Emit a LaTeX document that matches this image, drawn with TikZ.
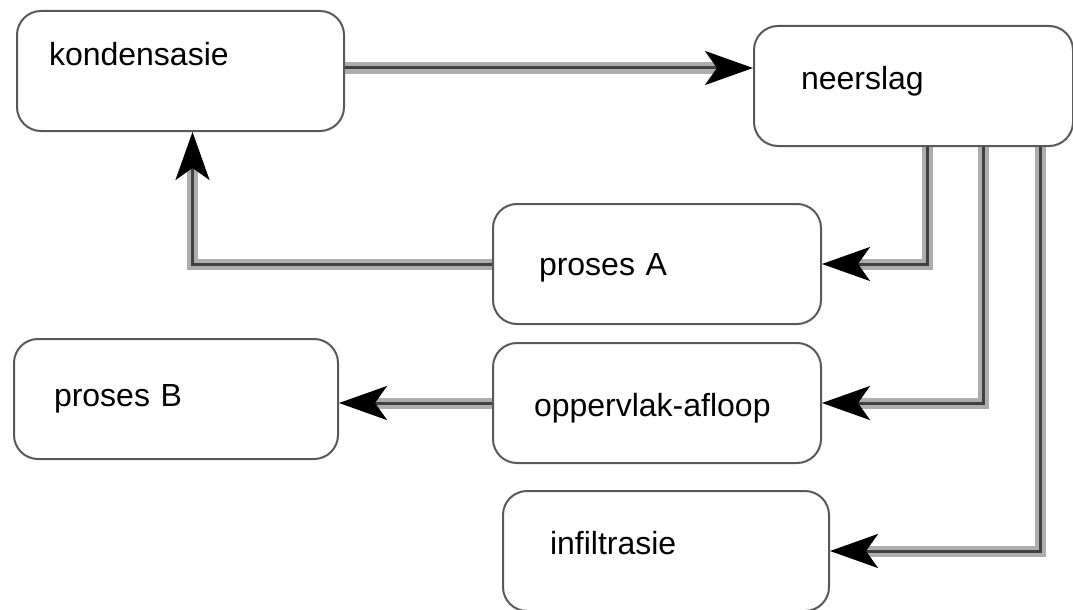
\documentclass[tikz,border=0pt]{standalone}
\usepackage{fontspec}
\setmainfont{Liberation Sans}
\usetikzlibrary{arrows.meta}
\begin{document}
\begin{tikzpicture}[x=1pt, y=-1pt]
    \tikzstyle{box}=[draw=black!65, line width=2pt, rounded corners=24pt, inner sep=0pt,
      align=left, anchor=north west, minimum height=120pt, font=\fontsize{32}{36}\selectfont]
    \tikzstyle{flow}=[draw=black!75, line width=3pt,
      -{Stealth[length=48pt, width=34pt, inset=12pt, black]},
      preaction={draw=black!32, line width=11pt, -, shorten >=32pt}]
    \useasboundingbox (0,0) rectangle (1073,610);
    \node[box, minimum width=327pt, text width=263pt, text height=55pt, text depth=65pt] (kondensasie) at (16,10) {kondensasie};
    \node[box, minimum width=319pt, text width=225pt, text height=63pt, text depth=57pt] (neerslag) at (753,25) {neerslag};
    \node[box, minimum width=328pt, text width=236pt, text height=71pt, text depth=49pt] (prosesA) at (492,203) {proses A};
    \node[box, minimum width=328pt, text width=246pt, text height=73pt, text depth=47pt] (afloop) at (492,342) {oppervlak-afloop};
    \node[box, minimum width=324pt, text width=244pt, text height=67pt, text depth=53pt] (prosesB) at (13,338) {proses B};
    \node[box, minimum width=326pt, text width=232pt, text height=62pt, text depth=56pt] (infiltrasie) at (502,490) {infiltrasie};
    \draw[flow] ([yshift=3pt]kondensasie.east) -- ([yshift=3pt]kondensasie.east -| neerslag.west);
    \draw[flow] (prosesA.west) -| ([xshift=12pt]kondensasie.south);
    \draw[flow] ([xshift=174pt]neerslag.south west) |- (prosesA.east);
    \draw[flow] ([xshift=230pt]neerslag.south west) |- (afloop.east);
    \draw[flow] ([xshift=287pt]neerslag.south west) |- (infiltrasie.east);
    \draw[flow] (afloop.west) -- (afloop.west -| prosesB.east);
\end{tikzpicture}
\end{document}
